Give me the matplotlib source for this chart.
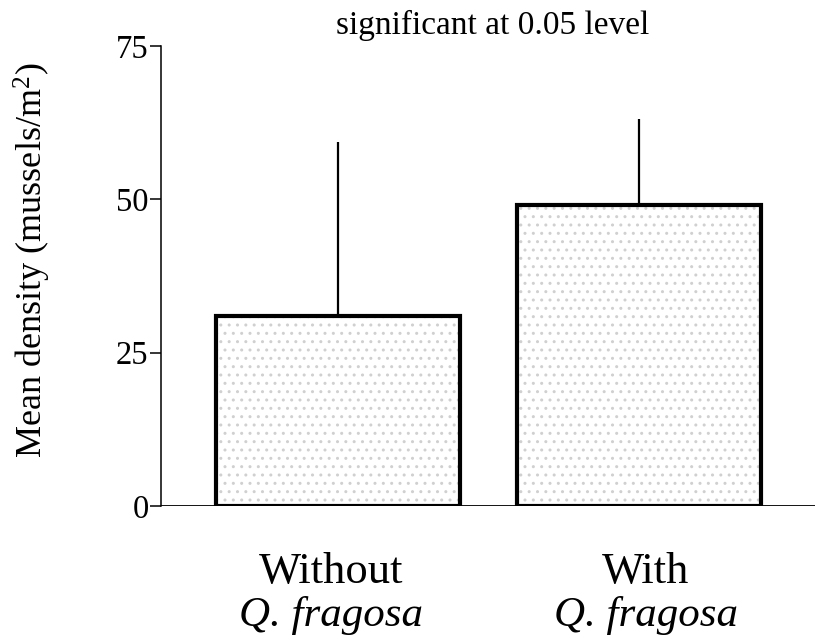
import matplotlib.pyplot as plt

# mean density with and without Q. fragosa, upper error only
groups = ["Without", "With"]
species = "Q. fragosa"
means = [31.0, 49.1]
upper_err = [28.3, 14.0]
yticks = [0, 25, 50, 75]

plt.rcParams['font.family'] = ['Liberation Serif', 'DejaVu Serif']
plt.rcParams['mathtext.fontset'] = 'custom'
plt.rcParams['mathtext.rm'] = 'Liberation Serif'
plt.rcParams['mathtext.it'] = 'Liberation Serif:italic'

fig = plt.figure(figsize=(8.15, 6.44), dpi=100)
ax = fig.add_axes([161 / 815, 1 - 506 / 644, 1 - 161 / 815, (506 - 46) / 644])

pos = [0, 1]
width = 0.81

# stippled fill, then the heavy outline on top
ax.bar(pos, means, width=width, color='white', edgecolor='#d0d0d0',
       hatch='..', linewidth=0, zorder=1)
ax.bar(pos, means, width=width, fill=False, edgecolor='black',
       linewidth=3, zorder=3)
ax.errorbar(pos, means, yerr=[[0, 0], upper_err], fmt='none',
            ecolor='black', elinewidth=1.6, capsize=0, zorder=2)

ax.axhline(0, color='black', linewidth=1.3, zorder=2)

ax.set_ylim(0, 75)
ax.set_xlim(-0.588, 1.585)
ax.set_yticks(yticks)
ax.tick_params(axis='y', direction='out', length=8, width=1.1,
               labelsize=23.5, pad=1)
ax.set_xticks([])

for side in ['top', 'right', 'bottom']:
    ax.spines[side].set_visible(False)
ax.spines['left'].set_linewidth(1.1)

ax.set_ylabel(r'Mean density (mussels/m$^{2}$)', fontsize=26)
ax.yaxis.set_label_coords(-0.165, 0.535)

# group labels, two lines under each bar
label_shift = [-0.023, 0.023]
for p, dx, g in zip(pos, label_shift, groups):
    ax.text(p + dx, -12.55, g, ha='center', va='baseline', fontsize=32)
    ax.text(p + dx, -19.6, species, ha='center', va='baseline', fontsize=31,
            style='italic')

fig.text(493 / 815, 1 - 25 / 644, 'significant at 0.05 level',
         ha='center', va='center', fontsize=24)

fig.savefig('out.png', dpi=100)
